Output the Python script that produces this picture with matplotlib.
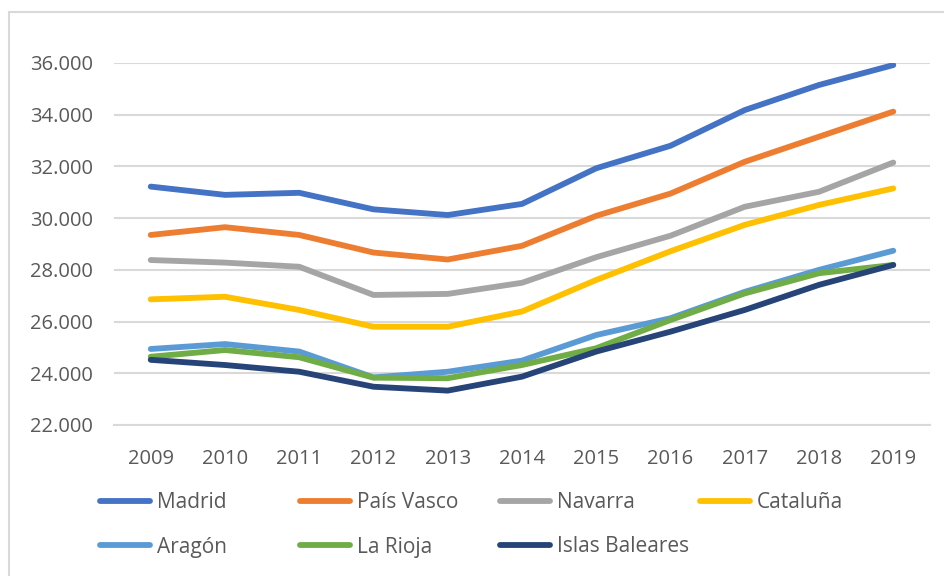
import matplotlib
matplotlib.use("Agg")
import matplotlib.pyplot as plt
from matplotlib.patches import Rectangle
from matplotlib.lines import Line2D

years = ["2009", "2010", "2011", "2012", "2013", "2014", "2015", "2016", "2017", "2018", "2019"]

madrid = [31220, 30900, 30980, 30340, 30120, 30550, 31930, 32800, 34180, 35150, 35920]
pais_vasco = [29350, 29650, 29350, 28670, 28400, 28930, 30090, 30950, 32180, 33150, 34120]
navarra = [28380, 28280, 28120, 27030, 27070, 27500, 28490, 29320, 30440, 31020, 32150]
cataluna = [26860, 26960, 26450, 25800, 25800, 26390, 27610, 28720, 29740, 30510, 31150]
aragon = [24940, 25130, 24840, 23840, 24060, 24490, 25480, 26130, 27150, 28000, 28740]
la_rioja = [24640, 24900, 24620, 23830, 23810, 24320, 24970, 26060, 27090, 27870, 28190]
islas_baleares = [24520, 24320, 24060, 23480, 23330, 23870, 24840, 25610, 26450, 27420, 28190]

series_names = ["Madrid", "País Vasco", "Navarra", "Cataluña", "Aragón", "La Rioja", "Islas Baleares"]
series_values = [madrid, pais_vasco, navarra, cataluna, aragon, la_rioja, islas_baleares]
colors = ["#4472C4", "#ED7D31", "#A5A5A5", "#FFC000", "#5B9BD5", "#70AD47", "#264478"]

yticks = [22000, 24000, 26000, 28000, 30000, 32000, 34000, 36000]
ytick_labels = ["22.000", "24.000", "26.000", "28.000", "30.000", "32.000", "34.000", "36.000"]

FONT = "Open Sans"
FS = 14.5
LFS = 15
TXT = "#595959"
GRID = "#D9D9D9"

W, H = 945, 576
fig = plt.figure(figsize=(W / 100, H / 100), dpi=100)
fig.patch.set_facecolor("white")

# chart border
fig.patches.append(Rectangle((9 / W, -0.1), 1.2, (H - 12) / H + 0.1, transform=fig.transFigure,
                             fill=False, edgecolor=GRID, linewidth=1.5))

left, right = 113.6 / W, 930.4 / W
bottom, top = 1 - 425 / H, 1 - 63 / H
ax = fig.add_axes([left, bottom, right - left, top - bottom])

x = list(range(len(years)))
handles = []
for name, vals, c in zip(series_names, series_values, colors):
    (ln,) = ax.plot(x, vals, color=c, linewidth=4.2, solid_capstyle="round",
                    solid_joinstyle="round", label=name, zorder=3)
    handles.append(ln)

ax.set_xlim(-0.5, len(years) - 0.5)
ax.set_ylim(22000, 36000)
ax.set_yticks(yticks)
ax.set_yticklabels(ytick_labels)
ax.set_xticks(x)
ax.set_xticklabels(years)
ax.yaxis.grid(True, color=GRID, linewidth=1.5, zorder=0)
ax.set_axisbelow(True)
for s in ["left", "right", "top"]:
    ax.spines[s].set_visible(False)
ax.spines["bottom"].set_color(GRID)
ax.spines["bottom"].set_linewidth(1.5)
ax.tick_params(axis="both", length=0, colors=TXT, labelsize=FS)
ax.tick_params(axis="y", pad=15)
ax.tick_params(axis="x", pad=17)
for lab in ax.get_xticklabels() + ax.get_yticklabels():
    lab.set_fontfamily(FONT)

# legend entries placed in a 4-column grid
leg_x = [100, 300, 500, 700]
leg_y = [503, 547]
hl_pts = 50 / (100 / 72)
gap_pts = 7 / (100 / 72)
for i, (h, name) in enumerate(zip(handles, series_names)):
    r, c = divmod(i, 4)
    lh = Line2D([], [], color=h.get_color(), linewidth=4.2, solid_capstyle="round")
    fig.legend([lh], [name], loc="center left",
               bbox_to_anchor=(leg_x[c] / W, 1 - leg_y[r] / H),
               frameon=False, borderpad=0, borderaxespad=0,
               handlelength=hl_pts / LFS, handletextpad=gap_pts / LFS,
               prop={"family": FONT, "size": LFS}, labelcolor=TXT)

fig.savefig("out.png", dpi=100, facecolor="white")
